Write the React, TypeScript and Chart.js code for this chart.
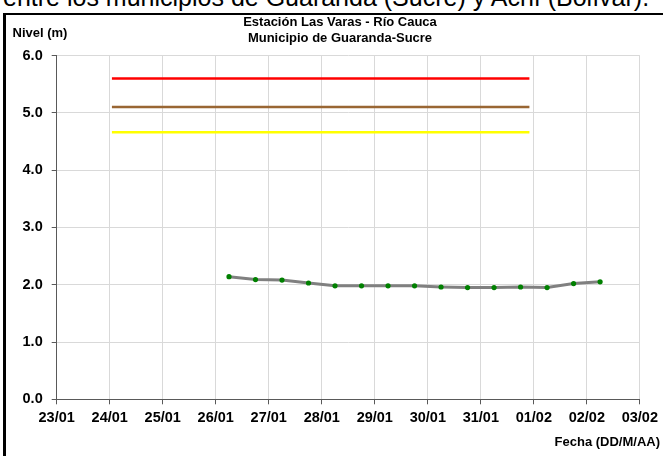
import React, { useEffect, useRef } from "react";
import { Chart, registerables } from "chart.js";

Chart.register(...registerables);

// ---- data ----
const tickLabels = ["23/01", "24/01", "25/01", "26/01", "27/01", "28/01", "29/01", "30/01", "31/01", "01/02", "02/02", "03/02"];
const yTicks = [0, 1, 2, 3, 4, 5, 6];

const levelTimes = [
  "26/01 06:00", "26/01 18:00", "27/01 06:00", "27/01 18:00", "28/01 06:00",
  "28/01 18:00", "29/01 06:00", "29/01 18:00", "30/01 06:00", "30/01 18:00",
  "31/01 06:00", "31/01 18:00", "01/02 06:00", "01/02 18:00", "02/02 06:00",
];
const levelValues = [2.14, 2.09, 2.08, 2.03, 1.98, 1.98, 1.98, 1.98, 1.96, 1.95, 1.95, 1.96, 1.95, 2.02, 2.05];

const thresholdNames = ["Alerta roja", "Alerta naranja", "Alerta amarilla"];
const thresholdValues = [5.6, 5.1, 4.66];
const thresholdFrom = "24/01 01:00";
const thresholdTo = "31/01 22:00";

const titleLines = ["Estación Las Varas - Río Cauca", "Municipio de Guaranda-Sucre"];
const yAxisTitle = "Nivel (m)";
const xAxisTitle = "Fecha (DD/M/AA)";
const captionText = "entre los municipios de Guaranda (Sucre) y Achí (Bolívar).";

// ---- helpers ----
function toDay(s: string): number {
  const [d, t] = s.split(" ");
  const idx = tickLabels.indexOf(d);
  const [h, m] = t.split(":").map(Number);
  return idx + (h + m / 60) / 24;
}

const FONT = "'Liberation Sans', Arial, sans-serif";
const thresholdColors = ["#ff0000", "#996633", "#ffff00"];

const textPlugin = {
  id: "textPlugin",
  afterDraw(chart: any) {
    const ctx = chart.ctx;
    ctx.save();
    ctx.fillStyle = "#000";
    ctx.font = `bold 13px ${FONT}`;
    ctx.textAlign = "center";
    ctx.textBaseline = "alphabetic";
    ctx.fillText(titleLines[0], 340, 26);
    ctx.fillText(titleLines[1], 340, 42);
    ctx.textAlign = "left";
    ctx.fillText(yAxisTitle, 12.5, 37);
    ctx.textAlign = "right";
    ctx.fillText(xAxisTitle, 660, 446);
    ctx.restore();
  },
};

export default function App() {
  const ref = useRef<HTMLCanvasElement | null>(null);

  useEffect(() => {
    if (!ref.current) return;
    const levelData = levelTimes.map((t, i) => ({ x: toDay(t), y: levelValues[i] }));
    const thresholdSets = thresholdValues.map((v, i) => ({
      label: thresholdNames[i],
      data: [
        { x: toDay(thresholdFrom), y: v },
        { x: toDay(thresholdTo), y: v },
      ],
      borderColor: thresholdColors[i],
      backgroundColor: thresholdColors[i],
      borderWidth: 2.5,
      pointRadius: 0,
      fill: false,
    }));

    const chart = new Chart(ref.current, {
      type: "line",
      data: {
        datasets: [
          ...thresholdSets,
          {
            label: "Nivel",
            data: levelData,
            borderColor: "#808080",
            borderWidth: 3,
            pointRadius: 2.6,
            pointBackgroundColor: "#008000",
            pointBorderColor: "#008000",
            pointBorderWidth: 0,
            tension: 0,
            fill: false,
          },
        ],
      },
      options: {
        animation: false,
        responsive: false,
        devicePixelRatio: 1,
        layout: { padding: { left: 0, right: 23, top: 55.5, bottom: 0 } },
        plugins: {
          legend: { display: false },
          tooltip: { enabled: false },
          title: { display: false },
        },
        scales: {
          x: {
            type: "linear",
            min: 0,
            max: tickLabels.length - 1,
            afterBuildTicks: (scale: any) => {
              scale.ticks = tickLabels.map((_, i) => ({ value: i }));
            },
            afterFit: (scale: any) => {
              scale.height = 56.7;
            },
            ticks: {
              autoSkip: false,
              maxRotation: 0,
              padding: 5,
              color: "#000",
              font: { family: FONT, size: 14.5, weight: "bold" },
              callback: (v: any) => tickLabels[Math.round(Number(v))] ?? "",
            },
            grid: { color: "#d9d9d9", tickColor: "#595959", tickLength: 5, lineWidth: 1 },
            border: { color: "#595959", width: 1 },
          },
          y: {
            type: "linear",
            min: yTicks[0],
            max: yTicks[yTicks.length - 1],
            afterBuildTicks: (scale: any) => {
              scale.ticks = yTicks.map((v) => ({ value: v }));
            },
            afterFit: (scale: any) => {
              scale.width = 56.7;
            },
            ticks: {
              padding: 9,
              color: "#000",
              font: { family: FONT, size: 14.5, weight: "bold" },
              callback: (v: any) => Number(v).toFixed(1),
            },
            grid: { color: "#d9d9d9", tickColor: "#595959", tickLength: 5, lineWidth: 1 },
            border: { color: "#595959", width: 1 },
          },
        },
      },
      plugins: [textPlugin],
    } as any);

    return () => chart.destroy();
  }, []);

  return (
    <div
      style={{
        position: "fixed",
        left: 0,
        top: 0,
        width: 663,
        height: 456,
        overflow: "hidden",
        background: "#fff",
      }}
    >
      <div
        style={{
          position: "absolute",
          left: 3,
          top: -15,
          whiteSpace: "nowrap",
          fontFamily: FONT,
          fontSize: 25,
          lineHeight: "25px",
          color: "#000",
        }}
      >
        {captionText}
      </div>
      <div
        style={{
          position: "absolute",
          left: 3,
          top: 13,
          width: 720,
          height: 520,
          borderLeft: "3px solid #000",
          borderTop: "2px solid #000",
        }}
      />
      <canvas
        ref={ref}
        width={663}
        height={456}
        style={{ position: "absolute", left: 0, top: 0, width: 663, height: 456, display: "block" }}
      />
    </div>
  );
}
